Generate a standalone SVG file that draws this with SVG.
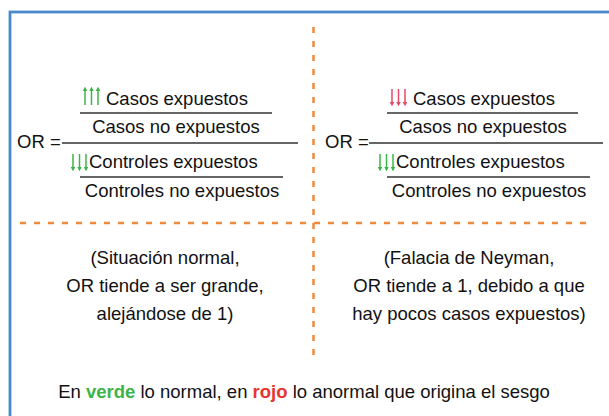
<svg xmlns="http://www.w3.org/2000/svg" width="609" height="416" viewBox="0 0 609 416">
<defs>
<style>
.t{font-family:"Liberation Sans",Arial,sans-serif;font-size:18.5px;fill:#111}
.c{text-anchor:middle}
.bar{stroke:#333;stroke-width:1.6}
.dash{stroke:#ee8a3c;stroke-width:2.5;stroke-dasharray:6 8;fill:none}
.ag{stroke:#3cb449;stroke-width:1.5}
.ar{stroke:#e84866;stroke-width:1.5}
</style>
<marker id="hg" viewBox="0 0 6 6" refX="3" refY="3" markerWidth="3.2" markerHeight="3.2" orient="auto"><path d="M0,0 L6,3 L0,6 z" fill="#3cb449"/></marker>
<marker id="hr" viewBox="0 0 6 6" refX="3" refY="3" markerWidth="3.2" markerHeight="3.2" orient="auto"><path d="M0,0 L6,3 L0,6 z" fill="#e84866"/></marker>
</defs>
<rect width="609" height="416" fill="#ffffff"/>
<rect x="10" y="12" width="620" height="420" fill="none" stroke="#4a89cc" stroke-width="2.8"/>

<g id="connectors">
<line class="dash" x1="313.5" y1="27" x2="313.5" y2="358"/>
<line class="dash" x1="20" y1="223" x2="590" y2="223"/>
</g>

<g id="formula-left">
<text class="t" x="17" y="148">OR =</text>
<line class="bar" x1="62" y1="143" x2="298" y2="143"/>
<line class="bar" x1="80" y1="113" x2="272" y2="113"/>
<line class="bar" x1="80" y1="177" x2="283" y2="177"/>
<line class="ag" x1="85" y1="105" x2="85" y2="89" marker-end="url(#hg)"/>
<line class="ag" x1="91.5" y1="105" x2="91.5" y2="89" marker-end="url(#hg)"/>
<line class="ag" x1="98" y1="105" x2="98" y2="89" marker-end="url(#hg)"/>
<text class="t" x="106" y="105">Casos expuestos</text>
<text class="t c" x="176" y="133">Casos no expuestos</text>
<line class="ag" x1="73" y1="154" x2="73" y2="169" marker-end="url(#hg)"/>
<line class="ag" x1="79.5" y1="154" x2="79.5" y2="169" marker-end="url(#hg)"/>
<line class="ag" x1="86" y1="154" x2="86" y2="169" marker-end="url(#hg)"/>
<text class="t" x="89" y="168">Controles expuestos</text>
<text class="t c" x="182" y="197">Controles no expuestos</text>
</g>

<g id="formula-right" transform="translate(307,0)">
<text class="t" x="18" y="148">OR =</text>
<line class="bar" x1="62" y1="143" x2="296" y2="143"/>
<line class="bar" x1="80" y1="113" x2="271" y2="113"/>
<line class="bar" x1="80" y1="177" x2="283" y2="177"/>
<line class="ar" x1="85" y1="89" x2="85" y2="104" marker-end="url(#hr)"/>
<line class="ar" x1="91.5" y1="89" x2="91.5" y2="104" marker-end="url(#hr)"/>
<line class="ar" x1="98" y1="89" x2="98" y2="104" marker-end="url(#hr)"/>
<text class="t" x="106" y="105">Casos expuestos</text>
<text class="t c" x="176" y="133">Casos no expuestos</text>
<line class="ag" x1="73" y1="154" x2="73" y2="169" marker-end="url(#hg)"/>
<line class="ag" x1="79.5" y1="154" x2="79.5" y2="169" marker-end="url(#hg)"/>
<line class="ag" x1="86" y1="154" x2="86" y2="169" marker-end="url(#hg)"/>
<text class="t" x="89" y="168">Controles expuestos</text>
<text class="t c" x="182" y="197">Controles no expuestos</text>
</g>

<g id="note-left">
<text class="t c" x="165" y="264">(Situación normal,</text>
<text class="t c" x="165" y="292">OR tiende a ser grande,</text>
<text class="t c" x="165" y="320">alejándose de 1)</text>
</g>

<g id="note-right">
<text class="t c" x="469" y="264">(Falacia de Neyman,</text>
<text class="t c" x="469" y="292">OR tiende a 1, debido a que</text>
<text class="t c" x="469" y="320">hay pocos casos expuestos)</text>
</g>

<g id="legend">
<text class="t c" x="304" y="398">En <tspan fill="#3cb449" font-weight="bold">verde</tspan> lo normal, en <tspan fill="#e8342f" font-weight="bold">rojo</tspan> lo anormal que origina el sesgo</text>
</g>
</svg>
